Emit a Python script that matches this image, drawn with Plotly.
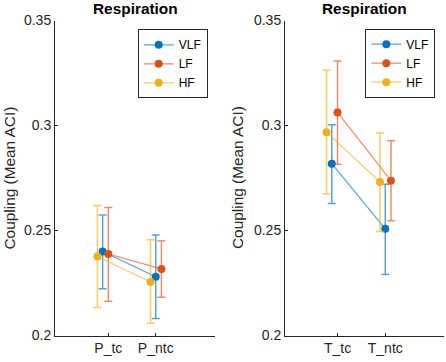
import plotly.graph_objects as go

# ---------------- data ----------------
series_names = ["VLF", "LF", "HF"]
categories_left = ["P_tc", "P_ntc"]
categories_right = ["T_tc", "T_ntc"]
panel_title = "Respiration"
y_label = "Coupling (Mean ACI)"
y_ticks = [0.2, 0.25, 0.3, 0.35]
y_tick_labels = ["0.2", "0.25", "0.3", "0.35"]

left_vlf_mean = [0.2400, 0.2280]
left_lf_mean = [0.2388, 0.2317]
left_hf_mean = [0.2376, 0.2255]
left_vlf_upper = [0.2574, 0.2478]
left_lf_upper = [0.2609, 0.2451]
left_hf_upper = [0.2619, 0.2456]
left_vlf_lower = [0.2223, 0.2081]
left_lf_lower = [0.2163, 0.2182]
left_hf_lower = [0.2133, 0.2058]

right_vlf_mean = [0.2818, 0.2508]
right_lf_mean = [0.3062, 0.2737]
right_hf_mean = [0.2968, 0.2731]
right_vlf_upper = [0.3003, 0.2720]
right_lf_upper = [0.3307, 0.2927]
right_hf_upper = [0.3263, 0.2964]
right_vlf_lower = [0.2628, 0.2291]
right_lf_lower = [0.2816, 0.2547]
right_hf_lower = [0.2674, 0.2495]

# ---------------- style ----------------
W, H = 446, 362
solid = {"VLF": "#0072BD", "LF": "#D95319", "HF": "#EDB120"}
light = {"VLF": "rgba(0,114,189,0.65)", "LF": "rgba(217,83,25,0.65)",
         "HF": "rgba(237,177,32,0.65)"}
x_offsets = {"VLF": [-0.12, 0.0], "LF": [0.0, 0.12], "HF": [-0.23, -0.11]}
FONT = "Liberation Sans, Arial, Helvetica, sans-serif"
AX = "#262626"

fig = go.Figure()

panels = [
    ("x", "y", "legend", categories_left,
     {"VLF": (left_vlf_mean, left_vlf_upper, left_vlf_lower),
      "LF": (left_lf_mean, left_lf_upper, left_lf_lower),
      "HF": (left_hf_mean, left_hf_upper, left_hf_lower)}),
    ("x2", "y2", "legend2", categories_right,
     {"VLF": (right_vlf_mean, right_vlf_upper, right_vlf_lower),
      "LF": (right_lf_mean, right_lf_upper, right_lf_lower),
      "HF": (right_hf_mean, right_hf_upper, right_hf_lower)}),
]

for xa, ya, lg, cats, data in panels:
    for name in series_names:
        mean, up, lo = data[name]
        xs = [i + 1 + x_offsets[name][i] for i in range(len(cats))]
        fig.add_trace(go.Scatter(
            x=xs, y=mean, name=name, xaxis=xa, yaxis=ya, legend=lg,
            mode="lines+markers",
            line=dict(color=light[name], width=1.2),
            marker=dict(color=solid[name], size=8),
            error_y=dict(type="data", symmetric=False,
                         array=[u - m for u, m in zip(up, mean)],
                         arrayminus=[m - l for m, l in zip(mean, lo)],
                         color=light[name], thickness=1.5, width=4),
        ))

ybot = 1 - 335.5 / H
ytop = 1 - 20.5 / H
axis_common = dict(showline=True, linecolor=AX, linewidth=1, ticks="inside",
                   ticklen=3, tickcolor=AX, showgrid=False, zeroline=False,
                   automargin=False,
                   tickfont=dict(family=FONT, size=14, color=AX))

legend_common = dict(xanchor="right", yanchor="top", bordercolor=AX,
                     borderwidth=1, bgcolor="white", tracegroupgap=0,
                     font=dict(family=FONT, size=12, color="black"))

fig.update_layout(
    width=W, height=H,
    margin=dict(l=0, r=0, t=0, b=0),
    paper_bgcolor="white", plot_bgcolor="white",
    font=dict(family=FONT, color=AX),
    xaxis=dict(domain=[55 / W, 215 / W], range=[-0.125, 3.25],
               tickvals=[1, 2], ticktext=categories_left, anchor="y",
               **axis_common),
    yaxis=dict(domain=[ybot, ytop], range=[0.2, 0.35], tickvals=y_ticks,
               ticktext=y_tick_labels, anchor="x", **axis_common),
    xaxis2=dict(domain=[285 / W, 443.5 / W], range=[-0.1, 3.22],
                tickvals=[1, 2], ticktext=categories_right, anchor="y2",
                **axis_common),
    yaxis2=dict(domain=[ybot, ytop], range=[0.2, 0.35], tickvals=y_ticks,
                ticktext=y_tick_labels, anchor="x2", **axis_common),
    legend=dict(x=207.7 / W, y=1 - 29.3 / H, **legend_common),
    legend2=dict(x=435.3 / W, y=1 - 28.7 / H, **legend_common),
    showlegend=True,
)

annotations = []
for cx in [(55 + 215) / 2 / W, (285 + 443.5) / 2 / W]:
    annotations.append(dict(text="<b>%s</b>" % panel_title, x=cx, y=1 - 9 / H,
                            xref="paper", yref="paper", showarrow=False,
                            xanchor="center", yanchor="middle",
                            font=dict(family=FONT, size=15.4, color="black")))
for lx in [8.5 / W, 237 / W]:
    annotations.append(dict(text=y_label, x=lx, y=(ybot + ytop) / 2,
                            xref="paper", yref="paper", showarrow=False,
                            textangle=-90, xanchor="center", yanchor="middle",
                            font=dict(family=FONT, size=15.4, color=AX)))
fig.update_layout(annotations=annotations)

fig.write_html("out.html",
               config={"displayModeBar": False},
               post_script="document.body.style.margin='0';"
                           "document.body.style.overflow='hidden';")
